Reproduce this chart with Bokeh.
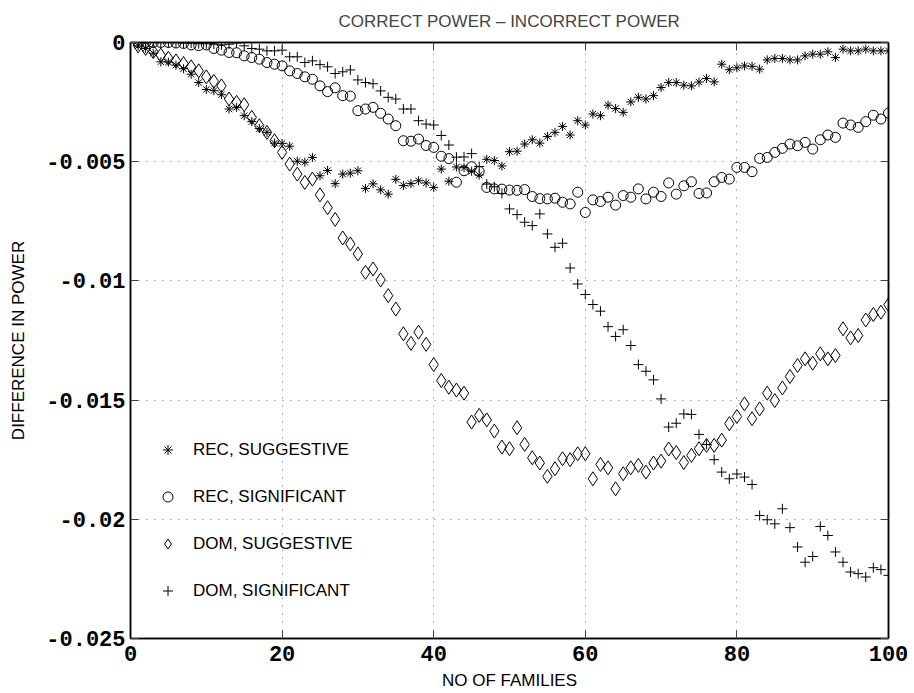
from bokeh.plotting import figure
from bokeh.models import (Range1d, FixedTicker, LinearAxis, Legend, LegendItem, ColumnDataSource,
                          CustomLabelingPolicy)
from bokeh.embed import file_html
from bokeh.resources import INLINE

# ---------------- data (values in units of 0.001) ----------------
families = list(range(1, 101))

rec_suggestive_milli = [
    -0.14, -0.25, -0.45, -0.81, -0.82, -0.95, -1.10, -1.33, -1.68, -1.97,
    -2.02, -2.19, -2.79, -2.72, -3.07, -3.32, -3.61, -3.77, -4.22, -4.23,
    -4.35, -4.98, -5.02, -4.82, -5.59, -5.37, -5.92, -5.52, -5.48, -5.38,
    -6.12, -5.93, -6.18, -6.36, -5.74, -6.00, -5.92, -5.80, -5.89, -6.08,
    -5.31, -5.82, -5.22, -5.25, -5.40, -5.56, -4.90, -4.95, -5.18, -4.58,
    -4.56, -4.26, -4.08, -4.22, -3.94, -3.77, -3.52, -3.88, -3.28, -3.46,
    -3.00, -3.07, -2.63, -2.77, -2.93, -2.49, -2.30, -2.37, -2.23, -1.89,
    -1.68, -1.68, -1.79, -1.82, -1.66, -1.51, -1.65, -0.91, -1.14, -1.06,
    -0.98, -1.00, -1.12, -0.73, -0.67, -0.67, -0.73, -0.73, -0.56, -0.49,
    -0.49, -0.39, -0.63, -0.28, -0.35, -0.35, -0.28, -0.35, -0.35, -0.35,
]

rec_significant_milli = [
    0.00, 0.00, 0.00, 0.00, 0.00, -0.02, -0.04, -0.10, -0.13, -0.10,
    -0.25, -0.32, -0.42, -0.43, -0.56, -0.63, -0.70, -0.84, -0.91, -0.98,
    -1.19, -1.30, -1.44, -1.54, -1.82, -2.06, -1.90, -2.23, -2.25, -2.86,
    -2.79, -2.72, -2.97, -3.21, -3.49, -4.12, -4.14, -4.05, -4.32, -4.40,
    -4.77, -4.87, -5.86, -5.38, -5.21, -5.41, -6.08, -6.14, -6.15, -6.19,
    -6.20, -6.17, -6.46, -6.55, -6.56, -6.53, -6.70, -6.77, -6.28, -7.13,
    -6.60, -6.67, -6.49, -6.82, -6.42, -6.49, -6.14, -6.56, -6.28, -6.46,
    -5.89, -6.36, -6.01, -5.84, -6.33, -6.31, -5.84, -5.66, -5.73, -5.24,
    -5.24, -5.42, -4.86, -4.82, -4.61, -4.44, -4.26, -4.33, -4.19, -4.47,
    -4.08, -3.88, -3.98, -3.38, -3.46, -3.56, -3.32, -3.05, -3.21, -2.96,
]

dom_suggestive_milli = [
    -0.14, -0.25, -0.38, -0.53, -0.66, -0.77, -0.88, -1.02, -1.19, -1.44,
    -1.63, -1.82, -2.37, -2.51, -2.61, -3.14, -3.49, -3.77, -4.12, -4.61,
    -5.10, -5.52, -5.87, -5.73, -6.39, -6.93, -7.42, -8.20, -8.45, -8.87,
    -9.64, -9.50, -9.96, -10.62, -11.18, -12.22, -12.62, -12.15, -12.66, -13.51,
    -14.18, -14.46, -14.58, -14.71, -15.92, -15.64, -15.83, -16.30, -16.97, -17.04,
    -16.16, -16.86, -17.42, -17.64, -18.20, -17.88, -17.46, -17.50, -17.25, -17.25,
    -18.30, -17.70, -17.84, -18.72, -18.09, -17.84, -17.74, -18.02, -17.64, -17.56,
    -17.05, -17.20, -17.62, -17.32, -17.04, -16.90, -16.90, -16.68, -15.99, -15.69,
    -15.16, -15.78, -15.37, -14.71, -15.02, -14.49, -14.01, -13.55, -13.27, -13.45,
    -13.06, -13.27, -13.13, -12.01, -12.39, -12.29, -11.64, -11.41, -11.31, -11.00,
]

dom_significant_milli = [
    0.00, 0.00, 0.00, 0.00, 0.00, 0.00, -0.02, -0.03, -0.05, -0.05,
    -0.07, -0.10, -0.07, -0.02, -0.14, -0.25, -0.28, -0.35, -0.35, -0.32,
    -0.60, -0.60, -0.84, -0.77, -0.93, -1.02, -1.30, -1.23, -1.15, -1.57,
    -1.68, -1.73, -2.03, -2.30, -2.37, -2.79, -2.79, -3.28, -3.42, -3.46,
    -3.90, -4.30, -4.81, -4.80, -4.66, -5.20, -5.94, -6.05, -6.33, -6.98,
    -7.22, -7.54, -7.68, -7.19, -8.03, -8.59, -8.42, -9.46, -10.13, -10.57,
    -10.99, -11.27, -11.92, -12.33, -12.05, -12.71, -13.51, -13.79, -14.15, -14.95,
    -16.13, -15.97, -15.58, -15.60, -16.44, -16.86, -17.50, -18.02, -18.30, -18.10,
    -18.23, -18.54, -19.84, -20.02, -20.19, -19.56, -20.35, -21.16, -21.80, -21.56,
    -20.30, -20.68, -21.37, -21.80, -22.21, -22.28, -22.42, -22.03, -22.11, -22.35,
]

series_labels = ["REC, SUGGESTIVE", "REC, SIGNIFICANT", "DOM, SUGGESTIVE", "DOM, SIGNIFICANT"]

x_ticks = [0, 20, 40, 60, 80, 100]
y_ticks = [-0.025, -0.02, -0.015, -0.01, -0.005, 0]
y_tick_labels = ["-0.025", "-0.02", "-0.015", "-0.01", "-0.005", "0"]

MILLI = 1e-3

# ---------------- figure ----------------
p = figure(
    width=914, height=693,
    x_range=Range1d(0, 100), y_range=Range1d(-0.025, 0),
    output_backend="svg", toolbar_location=None,
    min_border_left=130, min_border_right=26, min_border_top=42, min_border_bottom=55,
    background_fill_color="white", border_fill_color="white",
)

p.title.text = "CORRECT POWER \u2013 INCORRECT POWER"
p.title.align = "center"
p.title.text_font = "Liberation Sans"
p.title.text_font_size = "17px"
p.title.text_font_style = "normal"
p.title.standoff = 15

p.outline_line_color = "black"
p.outline_line_width = 1.5

hide_all = CustomLabelingPolicy(code="for (const i of indices) { indices.unset(i) }")


def style_axis(ax, ticks, show_labels):
    ax.ticker = FixedTicker(ticks=ticks, minor_ticks=[])
    ax.axis_line_color = "black"
    ax.axis_line_width = 1.5
    ax.major_tick_in = 8
    ax.major_tick_out = 0
    ax.minor_tick_in = 0
    ax.minor_tick_out = 0
    ax.major_tick_line_color = "#444444"
    ax.major_tick_line_width = 1
    ax.major_label_text_font = "Liberation Mono"
    ax.major_label_text_font_style = "bold"
    ax.major_label_text_color = "black"
    if show_labels:
        ax.major_label_text_font_size = "22px"
    else:
        ax.major_label_text_font_size = "1px"
        ax.major_label_standoff = 0
        ax.major_label_policy = hide_all


# extra frame axes (top and right, ticks only)
p.add_layout(LinearAxis(), "above")
p.add_layout(LinearAxis(), "right")

style_axis(p.below[0], x_ticks, True)
style_axis(p.above[0], x_ticks, False)
style_axis(p.left[0], y_ticks, True)
style_axis(p.right[0], y_ticks, False)

xa = p.below[0]
xa.axis_label = "NO OF FAMILIES"
xa.major_label_standoff = 7
xa.axis_label_standoff = 7
ya = p.left[0]
ya.axis_label = "DIFFERENCE IN POWER"
ya.major_label_standoff = 5
ya.axis_label_standoff = 15
ya.major_label_overrides = {t: s for t, s in zip(y_ticks, y_tick_labels)}
for ax in (xa, ya):
    ax.axis_label_text_font = "Liberation Sans"
    ax.axis_label_text_font_size = "17px"
    ax.axis_label_text_font_style = "normal"
    ax.axis_label_text_color = "black"

p.xgrid.ticker = FixedTicker(ticks=x_ticks)
p.ygrid.ticker = FixedTicker(ticks=y_ticks)
for g in (p.xgrid, p.ygrid):
    g.grid_line_color = "black"
    g.grid_line_alpha = 0.55
    g.grid_line_dash = "1 7"
    g.grid_line_width = 1

# ---------------- series ----------------
def src(vals):
    return ColumnDataSource(dict(x=families, y=[v * MILLI for v in vals]))

r1 = p.scatter("x", "y", source=src(rec_suggestive_milli), marker="asterisk", size=9,
               line_color="black", line_width=1)
r2 = p.scatter("x", "y", source=src(rec_significant_milli), marker="circle", size=10,
               line_color="black", fill_color=None, line_width=1)
r3 = p.scatter("x", "y", source=src(dom_suggestive_milli), marker="diamond", size=14,
               line_color="black", fill_color=None, line_width=1)
r4 = p.scatter("x", "y", source=src(dom_significant_milli), marker="cross", size=10,
               line_color="black", line_width=1)

legend = Legend(
    items=[LegendItem(label=lab, renderers=[r]) for lab, r in zip(series_labels, [r1, r2, r3, r4])],
    location=(25, 35),
    orientation="vertical",
    padding=0, margin=0, spacing=22,
    glyph_width=25, glyph_height=25, label_height=25,
    label_standoff=13,
    border_line_color=None, background_fill_alpha=0,
    label_text_font="Liberation Sans", label_text_font_size="17px",
    label_text_color="black",
)
p.add_layout(legend)

open("out.html", "w").write(file_html(p, INLINE))
